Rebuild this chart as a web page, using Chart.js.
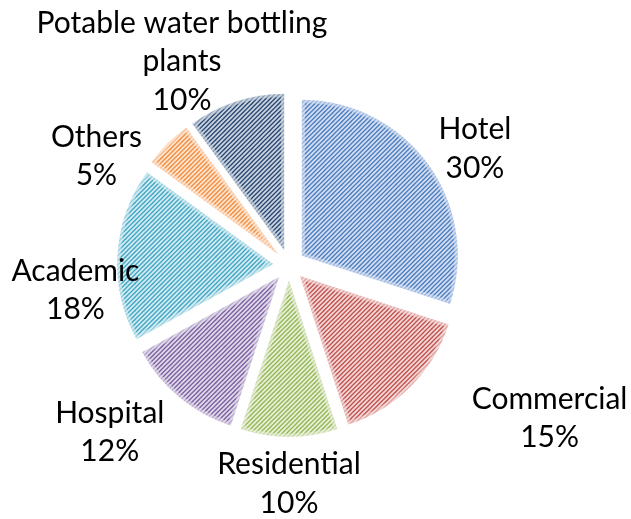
<!DOCTYPE html>
<html>
<head>
<meta charset="utf-8">
<script src="https://cdn.jsdelivr.net/npm/chart.js@4.4.1/dist/chart.umd.min.js"></script>
<style>
  html, body { margin: 0; padding: 0; background: #fff; }
  #wrap { width: 631px; height: 519px; }
</style>
</head>
<body>
<div id="wrap"><canvas id="useChart" width="631" height="519"></canvas></div>
<script>
// data
var categories = ["Hotel", "Commercial", "Residential", "Hospital", "Academic", "Others", "Potable water bottling plants"];
var shares = [30, 15, 10, 12, 18, 5, 10];
// how each label is broken on lines
var labelLines = [["Hotel"], ["Commercial"], ["Residential"], ["Hospital"], ["Academic"], ["Others"], ["Potable water bottling", "plants"]];

// line colour / light back colour of the hatch
var lineColors = ["#4a7cc0", "#c0504d", "#93b652", "#7a5e9e", "#3fa6c2", "#f38b3a", "#27466f"];
var backColors = ["#d3def1", "#f3d8d7", "#e7efd8", "#e0d9ea", "#d3ebf2", "#fde5d2", "#cad3e0"];

var explode = 16;      // px each slice is pulled out
var labelDist = 220;   // px from centre
// small nudges for the labels (px)
var labelNudge = [[8, 13], [105, -2], [0, -1], [-39, -2], [6, 39], [-37, 47], [-39, 6]];

function hatch(bg, fg) {
    var s = 9;
    var c = document.createElement("canvas");
    c.width = s; c.height = s;
    var g = c.getContext("2d");
    g.fillStyle = bg;
    g.fillRect(0, 0, s, s);
    g.strokeStyle = fg;
    g.lineWidth = 1.3;
    // "/" lines, two per tile, drawn with wrap copies
    for (var k = -2; k <= 4; k++) {
        var o = k * s / 2;
        g.beginPath();
        g.moveTo(o - 1, s + 1);
        g.lineTo(o + s + 1, -1);
        g.stroke();
    }
    return g.createPattern(c, "repeat");
}

function hexA(hex, a) {
    var n = parseInt(hex.slice(1), 16);
    return "rgba(" + (n >> 16) + "," + ((n >> 8) & 255) + "," + (n & 255) + "," + a + ")";
}

var patterns = lineColors.map(function (c, i) { return hatch(backColors[i], c); });

// pull every slice out along its bisector
var explodePlugin = {
    id: "explode",
    afterDatasetUpdate: function (chart, args) {
        args.meta.data.forEach(function (arc) {
            var mid = (arc.startAngle + arc.endAngle) / 2;
            arc.x += Math.cos(mid) * explode;
            arc.y += Math.sin(mid) * explode;
        });
    }
};

// outside labels: name + percent
var labelPlugin = {
    id: "pieLabels",
    afterDatasetsDraw: function (chart) {
        var ctx = chart.ctx;
        var meta = chart.getDatasetMeta(0);
        var total = shares.reduce(function (a, b) { return a + b; }, 0);
        ctx.save();
        ctx.font = "30px Lato";
        ctx.fillStyle = "#000";
        ctx.textAlign = "center";
        ctx.textBaseline = "middle";
        meta.data.forEach(function (arc, i) {
            var mid = (arc.startAngle + arc.endAngle) / 2;
            var cx = arc.x - Math.cos(mid) * explode;
            var cy = arc.y - Math.sin(mid) * explode;
            var x = cx + Math.cos(mid) * labelDist + labelNudge[i][0];
            var y = cy + Math.sin(mid) * labelDist + labelNudge[i][1];
            var lines = labelLines[i].concat([Math.round(shares[i] / total * 100) + "%"]);
            var lh = 38.5;
            var top = y - (lines.length - 1) * lh / 2;
            lines.forEach(function (t, k) {
                ctx.fillText(t, x, top + k * lh);
            });
        });
        ctx.restore();
    }
};

var ctx = document.getElementById("useChart").getContext("2d");
new Chart(ctx, {
    type: "pie",
    data: {
        labels: categories,
        datasets: [{
            data: shares,
            backgroundColor: patterns,
            borderColor: backColors.map(function (c) { return hexA(c, 0.6); }),
            borderWidth: 3,
            borderAlign: "inner"
        }]
    },
    options: {
        responsive: false,
        animation: false,
        radius: 156,
        layout: { padding: { left: 0, right: 53, top: 11, bottom: 0 } },
        plugins: {
            legend: { display: false },
            tooltip: { enabled: false }
        }
    },
    plugins: [explodePlugin, labelPlugin]
});
</script>
</body>
</html>
